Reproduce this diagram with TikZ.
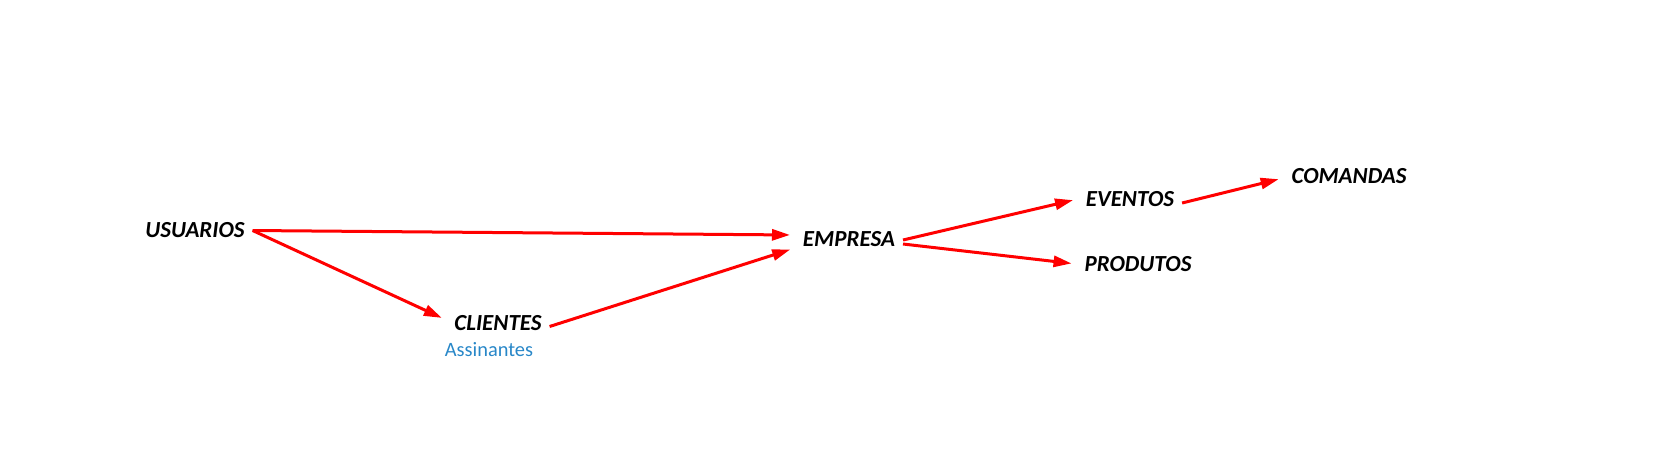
\documentclass[tikz,border=0pt]{standalone}
\usepackage{fontspec}
\setmainfont{Carlito}
\usepackage{xcolor}
\usepackage{tikz}
\usetikzlibrary{arrows.meta}
\definecolor{subBlue}{RGB}{40,135,200}
\tikzset{
ent/.style = {font=\fontsize{11.5}{13}\selectfont\bfseries\itshape,
              inner sep=4pt, outer sep=0pt},
sub/.style = {font=\fontsize{10.2}{12}\selectfont, text=subBlue, inner sep=0pt}
}
\tikzset{
link/.style = {draw=red, line width=1.5pt,
               -{Triangle[length=9pt, width=5.5pt]}, shorten >=2.5pt}
}

\begin{document}
\begin{tikzpicture}[x=0.5pt, y=-0.5pt]
    \useasboundingbox (0,0) rectangle (1671,473);

    \node[ent] (usrNode) at (195,230.5) {USUARIOS};
    \node[ent] (cliNode) at (498,323.5) {CLIENTES};
    \node[sub] (assNode) at (489,350) {Assinantes};
    \node[ent] (empNode) at (849,239) {EMPRESA};
    \node[ent] (eveNode) at (1130,199) {EVENTOS};
    \node[ent] (proNode) at (1138,264) {PRODUTOS};
    \node[ent] (comNode) at (1349,176) {COMANDAS};

    \draw[link] (usrNode.east) -- ([yshift=2pt]empNode.west);
    \draw[link] (usrNode.east) -- ([yshift=1.75pt]cliNode.west);
    \draw[link] ([yshift=-1.5pt]cliNode.east) -- ([yshift=-4.5pt]empNode.west);
    \draw[link] ([yshift=-0.5pt]empNode.east) -- (eveNode.west);
    \draw[link] ([yshift=-2.5pt]empNode.east) -- (proNode.west);
    \draw[link] ([yshift=-2pt]eveNode.east) -- ([yshift=-1pt]comNode.west);
\end{tikzpicture}
\end{document}
